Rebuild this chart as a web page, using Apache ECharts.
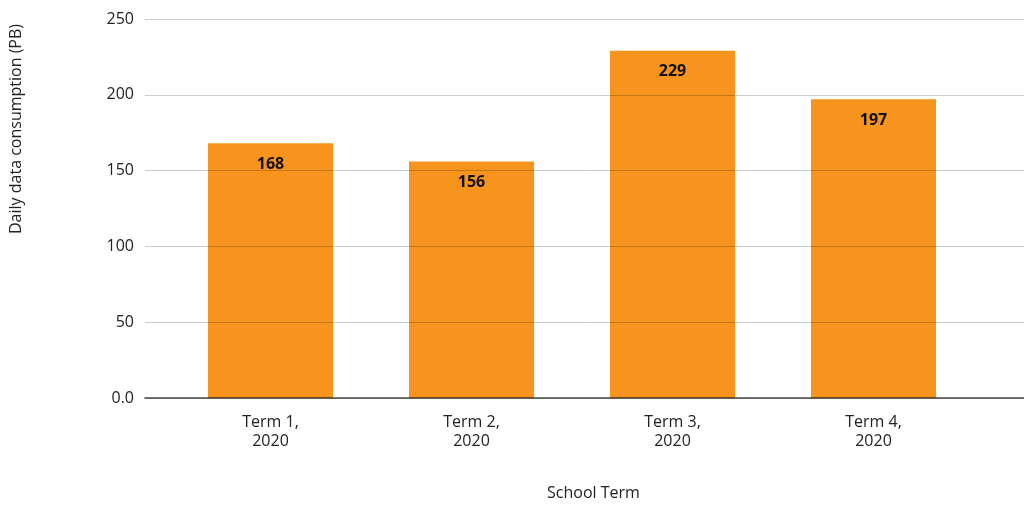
<!DOCTYPE html>
<html>
<head>
<meta charset="utf-8">
<script src="https://cdn.jsdelivr.net/npm/echarts@6/dist/echarts.min.js"></script>
<style>
  html, body { margin: 0; padding: 0; background: #fff; }
  #chart { width: 1024px; height: 506px; }
</style>
</head>
<body>
<div id="chart"></div>
<script>
// School terms and average daily data consumption (PB)
const categories = ['Term 1,\n2020', 'Term 2,\n2020', 'Term 3,\n2020', 'Term 4,\n2020'];
const consumption = [168, 156, 229, 197];
const yTicks = { min: 0, max: 250, interval: 50 };

const FONT = '"Open Sans", "Noto Sans", sans-serif';
const chart = echarts.init(document.getElementById('chart'), null, { renderer: 'canvas' });

chart.setOption({
  animation: false,
  textStyle: { fontFamily: FONT },
  grid: [
    // full-width grid carrying the value axis, gridlines and baseline
    { left: 145, right: 0, top: 19, bottom: 108 },
    // inner grid holding the bars
    { left: 170, width: 804, top: 19, bottom: 108 }
  ],
  xAxis: [
    {
      gridIndex: 0, type: 'category', data: [''],
      axisLine: { show: true, lineStyle: { color: 'rgba(0,0,0,0.7)', width: 1.5 } },
      axisTick: { show: false }, axisLabel: { show: false }, z: 5
    },
    {
      gridIndex: 1, type: 'category', data: categories,
      axisLine: { show: false }, axisTick: { show: false },
      axisLabel: { color: '#222', fontSize: 16, lineHeight: 19, margin: 15, fontFamily: FONT }
    }
  ],
  yAxis: [
    {
      gridIndex: 0, type: 'value', min: yTicks.min, max: yTicks.max, interval: yTicks.interval,
      z: 5,
      axisLine: { show: false }, axisTick: { show: false },
      splitLine: { lineStyle: { color: 'rgba(0,0,0,0.2)', width: 1 } },
      axisLabel: {
        color: '#222', fontSize: 16, margin: 11, fontFamily: FONT,
        formatter: v => (v === 0 ? '0.0' : String(v))
      }
    },
    {
      gridIndex: 1, type: 'value', min: yTicks.min, max: yTicks.max, interval: yTicks.interval,
      show: false
    }
  ],
  graphic: [
    {
      type: 'text',
      style: {
        text: 'Daily data consumption (PB)', fill: '#222', font: '16px ' + FONT
      },
      x: 8, y: 234,
      rotation: Math.PI / 2
    },
    {
      type: 'text', left: 547, top: 485,
      style: { text: 'School Term', fill: '#222', font: '16px ' + FONT }
    }
  ],
  series: [
    {
      type: 'bar', xAxisIndex: 1, yAxisIndex: 1,
      data: consumption, barWidth: 125, z: 2,
      itemStyle: { color: '#F7941D' },
      label: {
        show: true, position: 'insideTop', distance: 13,
        color: '#111', fontWeight: 'bold', fontSize: 16, fontFamily: FONT
      }
    }
  ]
});
</script>
</body>
</html>
